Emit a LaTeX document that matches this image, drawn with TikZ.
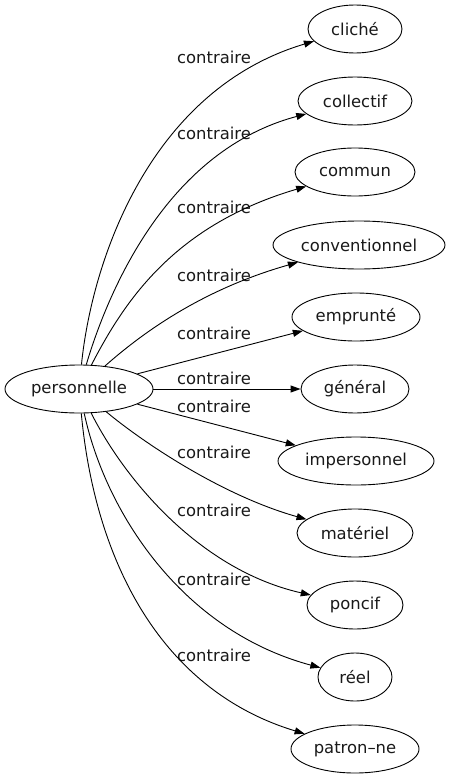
\documentclass[tikz,border=0pt]{standalone}
\usepackage{fontspec}
\setmainfont{DejaVu Sans}
\usetikzlibrary{shapes.geometric,arrows.meta}
\begin{document}
\begin{tikzpicture}[x=1pt,y=-1pt,
  every node/.style={font=\fontsize{16.4}{18}\selectfont, text=black!90},
  word/.style={draw=black, ellipse, line width=0.9pt, inner sep=0pt, minimum height=48pt},
  lab/.style={inner sep=0pt},
  link/.style={line width=0.9pt, -{Triangle[length=10pt,width=7pt]}}]
\useasboundingbox (0,0) rectangle (448,779);
% nodes
\node[word, minimum width=148pt] (p) at (79,389) {personnelle};
\node[word, minimum width=94pt]  (cliche) at (355,29) {cliché};
\node[word, minimum width=114pt] (collectif) at (355,101) {collectif};
\node[word, minimum width=120pt] (commun) at (355,172) {commun};
\node[word, minimum width=172pt] (conv) at (359,245) {conventionnel};
\node[word, minimum width=128pt] (emprunte) at (356,317) {emprunté};
\node[word, minimum width=108pt] (general) at (355,389) {général};
\node[word, minimum width=156pt] (imp) at (356,461) {impersonnel};
\node[word, minimum width=116pt] (materiel) at (355,533) {matériel};
\node[word, minimum width=96pt]  (poncif) at (355,605) {poncif};
\node[word, minimum width=74pt]  (reel) at (355,677) {réel};
\node[word, minimum width=128pt] (patron) at (355,749) {patron–ne};
% labels
\node[lab] (l1) at (214,57) {contraire};
\node[lab] (l2) at (214,133) {contraire};
\node[lab] (l3) at (214,207) {contraire};
\node[lab] (l4) at (214,275) {contraire};
\node[lab] (l5) at (214,333) {contraire};
\node[lab] (l6) at (214,378) {contraire};
\node[lab] (l7) at (214,406) {contraire};
\node[lab] (l8) at (214,452) {contraire};
\node[lab] (l9) at (214,510) {contraire};
\node[lab] (l10) at (214,579) {contraire};
\node[lab] (l11) at (214,655) {contraire};
% edges
\draw[link] (p) .. controls (92,260) and (150,90) .. (cliche);
\draw[link] (p) .. controls (110,285) and (170,150) .. (collectif);
\draw[link] (p) .. controls (125,300) and (175,225) .. (commun);
\draw[link] (p) .. controls (140,335) and (200,290) .. (conv);
\draw[link] (p) -- (emprunte);
\draw[link] (p) -- (general);
\draw[link] (p) -- (imp);
\draw[link] (p) .. controls (140,440) and (220,495) .. (materiel);
\draw[link] (p) .. controls (125,480) and (200,570) .. (poncif);
\draw[link] (p) .. controls (105,510) and (180,630) .. (reel);
\draw[link] (p) .. controls (95,560) and (160,690) .. (patron);
\end{tikzpicture}
\end{document}
